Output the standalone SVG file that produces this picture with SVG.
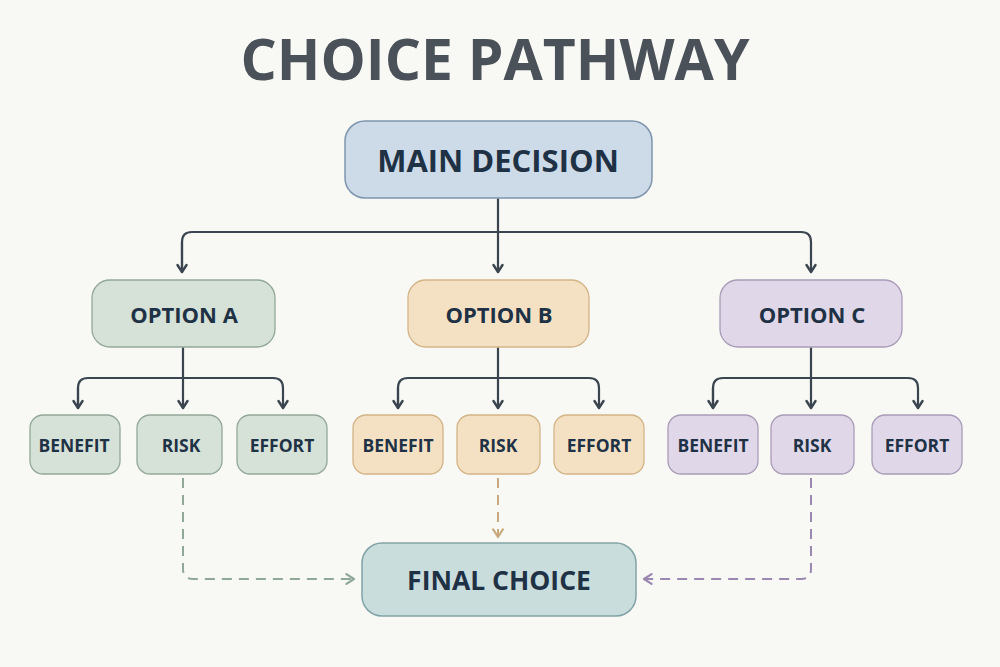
<svg xmlns="http://www.w3.org/2000/svg" width="1000" height="667" viewBox="0 0 1000 667">
  <style>
    .lbl { font-family: "Open Sans", "Liberation Sans", sans-serif; font-weight: 700; fill: #1f3245; text-anchor: middle; dominant-baseline: central; }
    .title { font-family: "Open Sans", "Liberation Sans", sans-serif; font-weight: 700; fill: #4a5159; text-anchor: middle; }
    .solid { fill: none; stroke: #3a4550; stroke-width: 2.2; stroke-linecap: round; stroke-linejoin: round; }
    .dash { fill: none; stroke-width: 2; stroke-dasharray: 10 7; stroke-linecap: butt; }
    .gA { fill: #d6e1d7; stroke: #93a898; stroke-width: 1.3; }
    .gB { fill: #f4e1c4; stroke: #d3b487; stroke-width: 1.3; }
    .gC { fill: #e0d8e8; stroke: #a99cb8; stroke-width: 1.3; }
  </style>
  <defs>
    <marker id="arr" viewBox="0 0 12 12" refX="10" refY="6" markerWidth="12" markerHeight="12" markerUnits="userSpaceOnUse" orient="auto">
      <path d="M3,1.5 L10,6 L3,10.5" fill="none" stroke="#3a4550" stroke-width="2.4" stroke-linecap="round" stroke-linejoin="round"/>
    </marker>
    <marker id="arrG" viewBox="0 0 12 12" refX="10" refY="6" markerWidth="13" markerHeight="13" markerUnits="userSpaceOnUse" orient="auto">
      <path d="M3,1.5 L10,6 L3,10.5" fill="none" stroke="#8fa898" stroke-width="2" stroke-linecap="round" stroke-linejoin="round"/>
    </marker>
    <marker id="arrO" viewBox="0 0 12 12" refX="10" refY="6" markerWidth="13" markerHeight="13" markerUnits="userSpaceOnUse" orient="auto">
      <path d="M3,1.5 L10,6 L3,10.5" fill="none" stroke="#c9a97d" stroke-width="2" stroke-linecap="round" stroke-linejoin="round"/>
    </marker>
    <marker id="arrP" viewBox="0 0 12 12" refX="10" refY="6" markerWidth="13" markerHeight="13" markerUnits="userSpaceOnUse" orient="auto">
      <path d="M3,1.5 L10,6 L3,10.5" fill="none" stroke="#9a88b0" stroke-width="2" stroke-linecap="round" stroke-linejoin="round"/>
    </marker>
  </defs>

  <rect x="0" y="0" width="1000" height="667" fill="#f8f8f4"/>

  <text class="title" x="495" y="80" font-size="57">CHOICE PATHWAY</text>

  <g id="connectors">
    <!-- main to options -->
    <path class="solid" d="M498,199 V232"/>
    <path class="solid" d="M182,272 V242 Q182,232 192,232 H801 Q811,232 811,242 V272" marker-end="url(#arr)"/>
    <path class="solid" d="M182,242 V272" marker-end="url(#arr)"/>
    <path class="solid" d="M498,232 V272" marker-end="url(#arr)"/>
    <!-- option A children -->
    <path class="solid" d="M183,348 V378"/>
    <path class="solid" d="M78,408 V388 Q78,378 88,378 H273 Q283,378 283,388 V408" marker-end="url(#arr)"/>
    <path class="solid" d="M78,388 V408" marker-end="url(#arr)"/>
    <path class="solid" d="M183,378 V408" marker-end="url(#arr)"/>
    <!-- option B children -->
    <path class="solid" d="M498,348 V378"/>
    <path class="solid" d="M398,408 V388 Q398,378 408,378 H589 Q599,378 599,388 V408" marker-end="url(#arr)"/>
    <path class="solid" d="M398,388 V408" marker-end="url(#arr)"/>
    <path class="solid" d="M498,378 V408" marker-end="url(#arr)"/>
    <!-- option C children -->
    <path class="solid" d="M811,348 V378"/>
    <path class="solid" d="M713,408 V388 Q713,378 723,378 H908 Q918,378 918,388 V408" marker-end="url(#arr)"/>
    <path class="solid" d="M713,388 V408" marker-end="url(#arr)"/>
    <path class="solid" d="M811,378 V408" marker-end="url(#arr)"/>
    <!-- dashed to final -->
    <path class="dash" stroke="#8fa898" d="M183,478 V569 Q183,579 193,579 H354" marker-end="url(#arrG)"/>
    <path class="dash" stroke="#c9a97d" d="M498,478 V537" marker-end="url(#arrO)"/>
    <path class="dash" stroke="#9a88b0" d="M811,478 V569 Q811,579 801,579 H644" marker-end="url(#arrP)"/>
  </g>

  <g id="main-decision">
    <rect x="345" y="121" width="307" height="77" rx="20" fill="#cddae7" stroke="#7d95ad" stroke-width="1.5"/>
    <text class="lbl" x="498" y="160" font-size="31">MAIN DECISION</text>
  </g>

  <g id="option-a">
    <rect class="gA" x="92" y="280" width="183" height="67" rx="18"/>
    <text class="lbl" x="184" y="314" font-size="22">OPTION A</text>
  </g>
  <g id="option-b">
    <rect class="gB" x="408" y="280" width="181" height="67" rx="18"/>
    <text class="lbl" x="499" y="314" font-size="22">OPTION B</text>
  </g>
  <g id="option-c">
    <rect class="gC" x="720" y="280" width="182" height="67" rx="18"/>
    <text class="lbl" x="812" y="314" font-size="22">OPTION C</text>
  </g>

  <g id="a-benefit">
    <rect class="gA" x="30" y="415" width="90" height="59" rx="13"/>
    <text class="lbl" x="74" y="445" font-size="17.5">BENEFIT</text>
  </g>
  <g id="a-risk">
    <rect class="gA" x="137" y="415" width="85" height="59" rx="13"/>
    <text class="lbl" x="181" y="445" font-size="17.5">RISK</text>
  </g>
  <g id="a-effort">
    <rect class="gA" x="237" y="415" width="90" height="59" rx="13"/>
    <text class="lbl" x="282" y="445" font-size="17.5">EFFORT</text>
  </g>

  <g id="b-benefit">
    <rect class="gB" x="353" y="415" width="90" height="59" rx="13"/>
    <text class="lbl" x="398" y="445" font-size="17.5">BENEFIT</text>
  </g>
  <g id="b-risk">
    <rect class="gB" x="457" y="415" width="83" height="59" rx="13"/>
    <text class="lbl" x="498" y="445" font-size="17.5">RISK</text>
  </g>
  <g id="b-effort">
    <rect class="gB" x="554" y="415" width="90" height="59" rx="13"/>
    <text class="lbl" x="599" y="445" font-size="17.5">EFFORT</text>
  </g>

  <g id="c-benefit">
    <rect class="gC" x="668" y="415" width="90" height="59" rx="13"/>
    <text class="lbl" x="713" y="445" font-size="17.5">BENEFIT</text>
  </g>
  <g id="c-risk">
    <rect class="gC" x="771" y="415" width="83" height="59" rx="13"/>
    <text class="lbl" x="812" y="445" font-size="17.5">RISK</text>
  </g>
  <g id="c-effort">
    <rect class="gC" x="872" y="415" width="90" height="59" rx="13"/>
    <text class="lbl" x="917" y="445" font-size="17.5">EFFORT</text>
  </g>

  <g id="final-choice">
    <rect x="362" y="543" width="274" height="73" rx="20" fill="#c9dddd" stroke="#82a3a6" stroke-width="1.5"/>
    <text class="lbl" x="499" y="580" font-size="26.5">FINAL CHOICE</text>
  </g>
</svg>
